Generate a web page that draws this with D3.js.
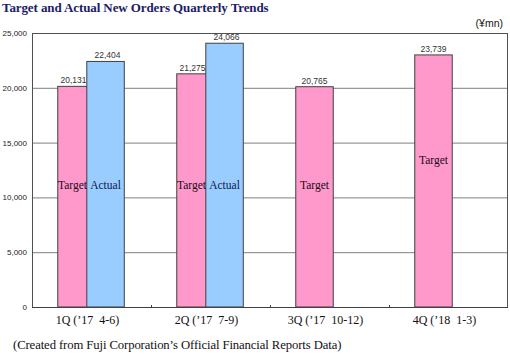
<!DOCTYPE html>
<html>
<head>
<meta charset="utf-8">
<style>
  body { margin: 0; background: #fff; }
  svg { display: block; }
  .serif { font-family: "Liberation Serif", "DejaVu Serif", serif; }
  .sans { font-family: "Liberation Sans", Arial, sans-serif; }
</style>
</head>
<body>
<div class="chart"></div>
<script src="https://d3js.org/d3.v7.min.js"></script>
<script>
  // 資料
  const quarters = ['1Q (\u201917  4-6)', '2Q (\u201917  7-9)', '3Q (\u201917  10-12)', '4Q (\u201918  1-3)']
  // 長條高度（依圖面讀取，3Q、4Q 圖上畫得比標籤值低）
  const target = [20131, 21275, 20100, 23000]
  const actual = [22404, 24066, null, null]
  // 長條上方顯示的數值
  const targetLabels = ['20,131', '21,275', '20,765', '23,739']
  const actualLabels = ['22,404', '24,066', null, null]
  const yTicks = [0, 5000, 10000, 15000, 20000, 25000]
  // 框內標籤的高度（數值單位）
  const innerLabelAt = [11150, 11150, 11150, 13400]

  const width = 510, height = 354
  const margin = { top: 33, right: 2, bottom: 47, left: 32 }

  const svg = d3.select('.chart')
                .append('svg')
                .attr('width', width)
                .attr('height', height)

  const xScale = d3.scaleBand()
                  .domain(quarters)
                  .range([margin.left, width - margin.right])
                  .padding(0)

  const yScale = d3.scaleLinear()
                  .domain([0, 25000])
                  .range([height - margin.bottom, margin.top])

  const bw = xScale.bandwidth()
  const barW = bw * 0.315
  const offT = -bw * 0.126, offA = bw * 0.118

  // 格線
  svg.append('g')
     .selectAll('line')
     .data(yTicks.slice(1, -1))
     .join('line')
     .attr('x1', margin.left)
     .attr('x2', width - margin.right)
     .attr('y1', d => yScale(d) + 0.5)
     .attr('y2', d => yScale(d) + 0.5)
     .attr('stroke', '#7f7f7f')
     .attr('stroke-width', 1)

  // 外框
  svg.append('rect')
     .attr('x', margin.left + 0.5)
     .attr('y', yScale(25000) + 0.5)
     .attr('width', width - margin.right - margin.left - 1)
     .attr('height', yScale(0) - yScale(25000))
     .attr('fill', 'none')
     .attr('stroke', '#505050')

  // Y 軸標籤
  const yAxis = d3.axisLeft(yScale)
                  .tickValues(yTicks)
                  .tickSize(0)
                  .tickPadding(5)
                  .tickFormat(d3.format(','))
  svg.append('g')
     .attr('transform', `translate(${margin.left},0)`)
     .call(yAxis)
     .call(g => g.select('.domain').remove())
     .call(g => g.selectAll('text')
                 .attr('class', 'sans')
                 .style('font-size', '8px')
                 .attr('fill', '#222'))

  // 目標長條
  svg.append('g')
     .selectAll('rect')
     .data(target)
     .join('rect')
     .attr('x', (d, i) => xScale(quarters[i]) + bw / 2 + offT - barW / 2)
     .attr('y', d => yScale(d))
     .attr('width', barW)
     .attr('height', d => yScale(0) - yScale(d))
     .attr('fill', '#ff99cc')
     .attr('stroke', '#404040')
     .attr('stroke-width', 1)

  // 實際長條
  svg.append('g')
     .selectAll('rect')
     .data(actual.map((v, i) => ({ v, q: quarters[i] })).filter(d => d.v != null))
     .join('rect')
     .attr('x', d => xScale(d.q) + bw / 2 + offA - barW / 2)
     .attr('y', d => yScale(d.v))
     .attr('width', barW)
     .attr('height', d => yScale(0) - yScale(d.v))
     .attr('fill', '#99ccff')
     .attr('stroke', '#404040')
     .attr('stroke-width', 1)

  // 底部軸線與刻度
  svg.append('line')
     .attr('x1', margin.left)
     .attr('x2', width - margin.right)
     .attr('y1', yScale(0) + 0.5)
     .attr('y2', yScale(0) + 0.5)
     .attr('stroke', '#404040')
  svg.append('g')
     .selectAll('line')
     .data(quarters.slice(1))
     .join('line')
     .attr('x1', d => xScale(d) + 0.5)
     .attr('x2', d => xScale(d) + 0.5)
     .attr('y1', yScale(0) - 2)
     .attr('y2', yScale(0))
     .attr('stroke', '#404040')

  // 數值標籤
  svg.append('g')
     .selectAll('text')
     .data(target)
     .join('text')
     .attr('class', 'sans')
     .attr('x', (d, i) => xScale(quarters[i]) + bw / 2 + offT - (actual[i] != null ? 3 : 0))
     .attr('y', d => yScale(d) - 3)
     .attr('text-anchor', 'middle')
     .style('font-size', '8.5px')
     .attr('fill', '#333')
     .text((d, i) => targetLabels[i])
  svg.append('g')
     .selectAll('text')
     .data(actual.map((v, i) => ({ v, i })).filter(d => d.v != null))
     .join('text')
     .attr('class', 'sans')
     .attr('x', d => xScale(quarters[d.i]) + bw / 2 + offA + 2)
     .attr('y', d => yScale(d.v) - 3)
     .attr('text-anchor', 'middle')
     .style('font-size', '8.5px')
     .attr('fill', '#333')
     .text(d => actualLabels[d.i])

  // 框內標籤
  svg.append('g')
     .selectAll('text')
     .data(target)
     .join('text')
     .attr('class', 'serif')
     .attr('x', (d, i) => xScale(quarters[i]) + bw / 2 + offT - (actual[i] != null ? 4 : 0))
     .attr('y', (d, i) => yScale(innerLabelAt[i]) + 4)
     .attr('text-anchor', 'middle')
     .style('font-size', '11.5px')
     .attr('fill', '#1a0a1a')
     .text('Target')
  svg.append('g')
     .selectAll('text')
     .data(actual.map((v, i) => ({ v, i })).filter(d => d.v != null))
     .join('text')
     .attr('class', 'serif')
     .attr('x', d => xScale(quarters[d.i]) + bw / 2 + offA)
     .attr('y', d => yScale(innerLabelAt[d.i]) + 4)
     .attr('text-anchor', 'middle')
     .style('font-size', '11.5px')
     .attr('fill', '#0d1a4d')
     .text('Actual')

  // X 軸標籤
  svg.append('g')
     .selectAll('text')
     .data(quarters)
     .join('text')
     .attr('class', 'serif')
     .attr('x', d => xScale(d) + bw / 2 - 4)
     .attr('y', yScale(0) + 17)
     .attr('text-anchor', 'middle')
     .style('font-size', '12px')
     .style('white-space', 'pre')
     .attr('fill', '#111')
     .text(d => d)

  // 標題、單位、註解
  svg.append('text')
     .attr('class', 'serif')
     .attr('x', 2)
     .attr('y', 12)
     .style('font-size', '13px')
     .style('font-weight', 'bold')
     .style('letter-spacing', '-0.1px')
     .attr('fill', '#1c1c66')
     .text('Target and Actual New Orders Quarterly Trends')

  svg.append('text')
     .attr('class', 'sans')
     .attr('x', 503)
     .attr('y', 27)
     .attr('text-anchor', 'end')
     .style('font-size', '10.5px')
     .attr('fill', '#111')
     .text('(\u00a5mn)')

  svg.append('text')
     .attr('class', 'serif')
     .attr('x', 13)
     .attr('y', 349)
     .style('font-size', '12.7px')
     .style('letter-spacing', '-0.1px')
     .attr('fill', '#111')
     .text('(Created from Fuji Corporation\u2019s Official Financial Reports Data)')
</script>
</body>
</html>
